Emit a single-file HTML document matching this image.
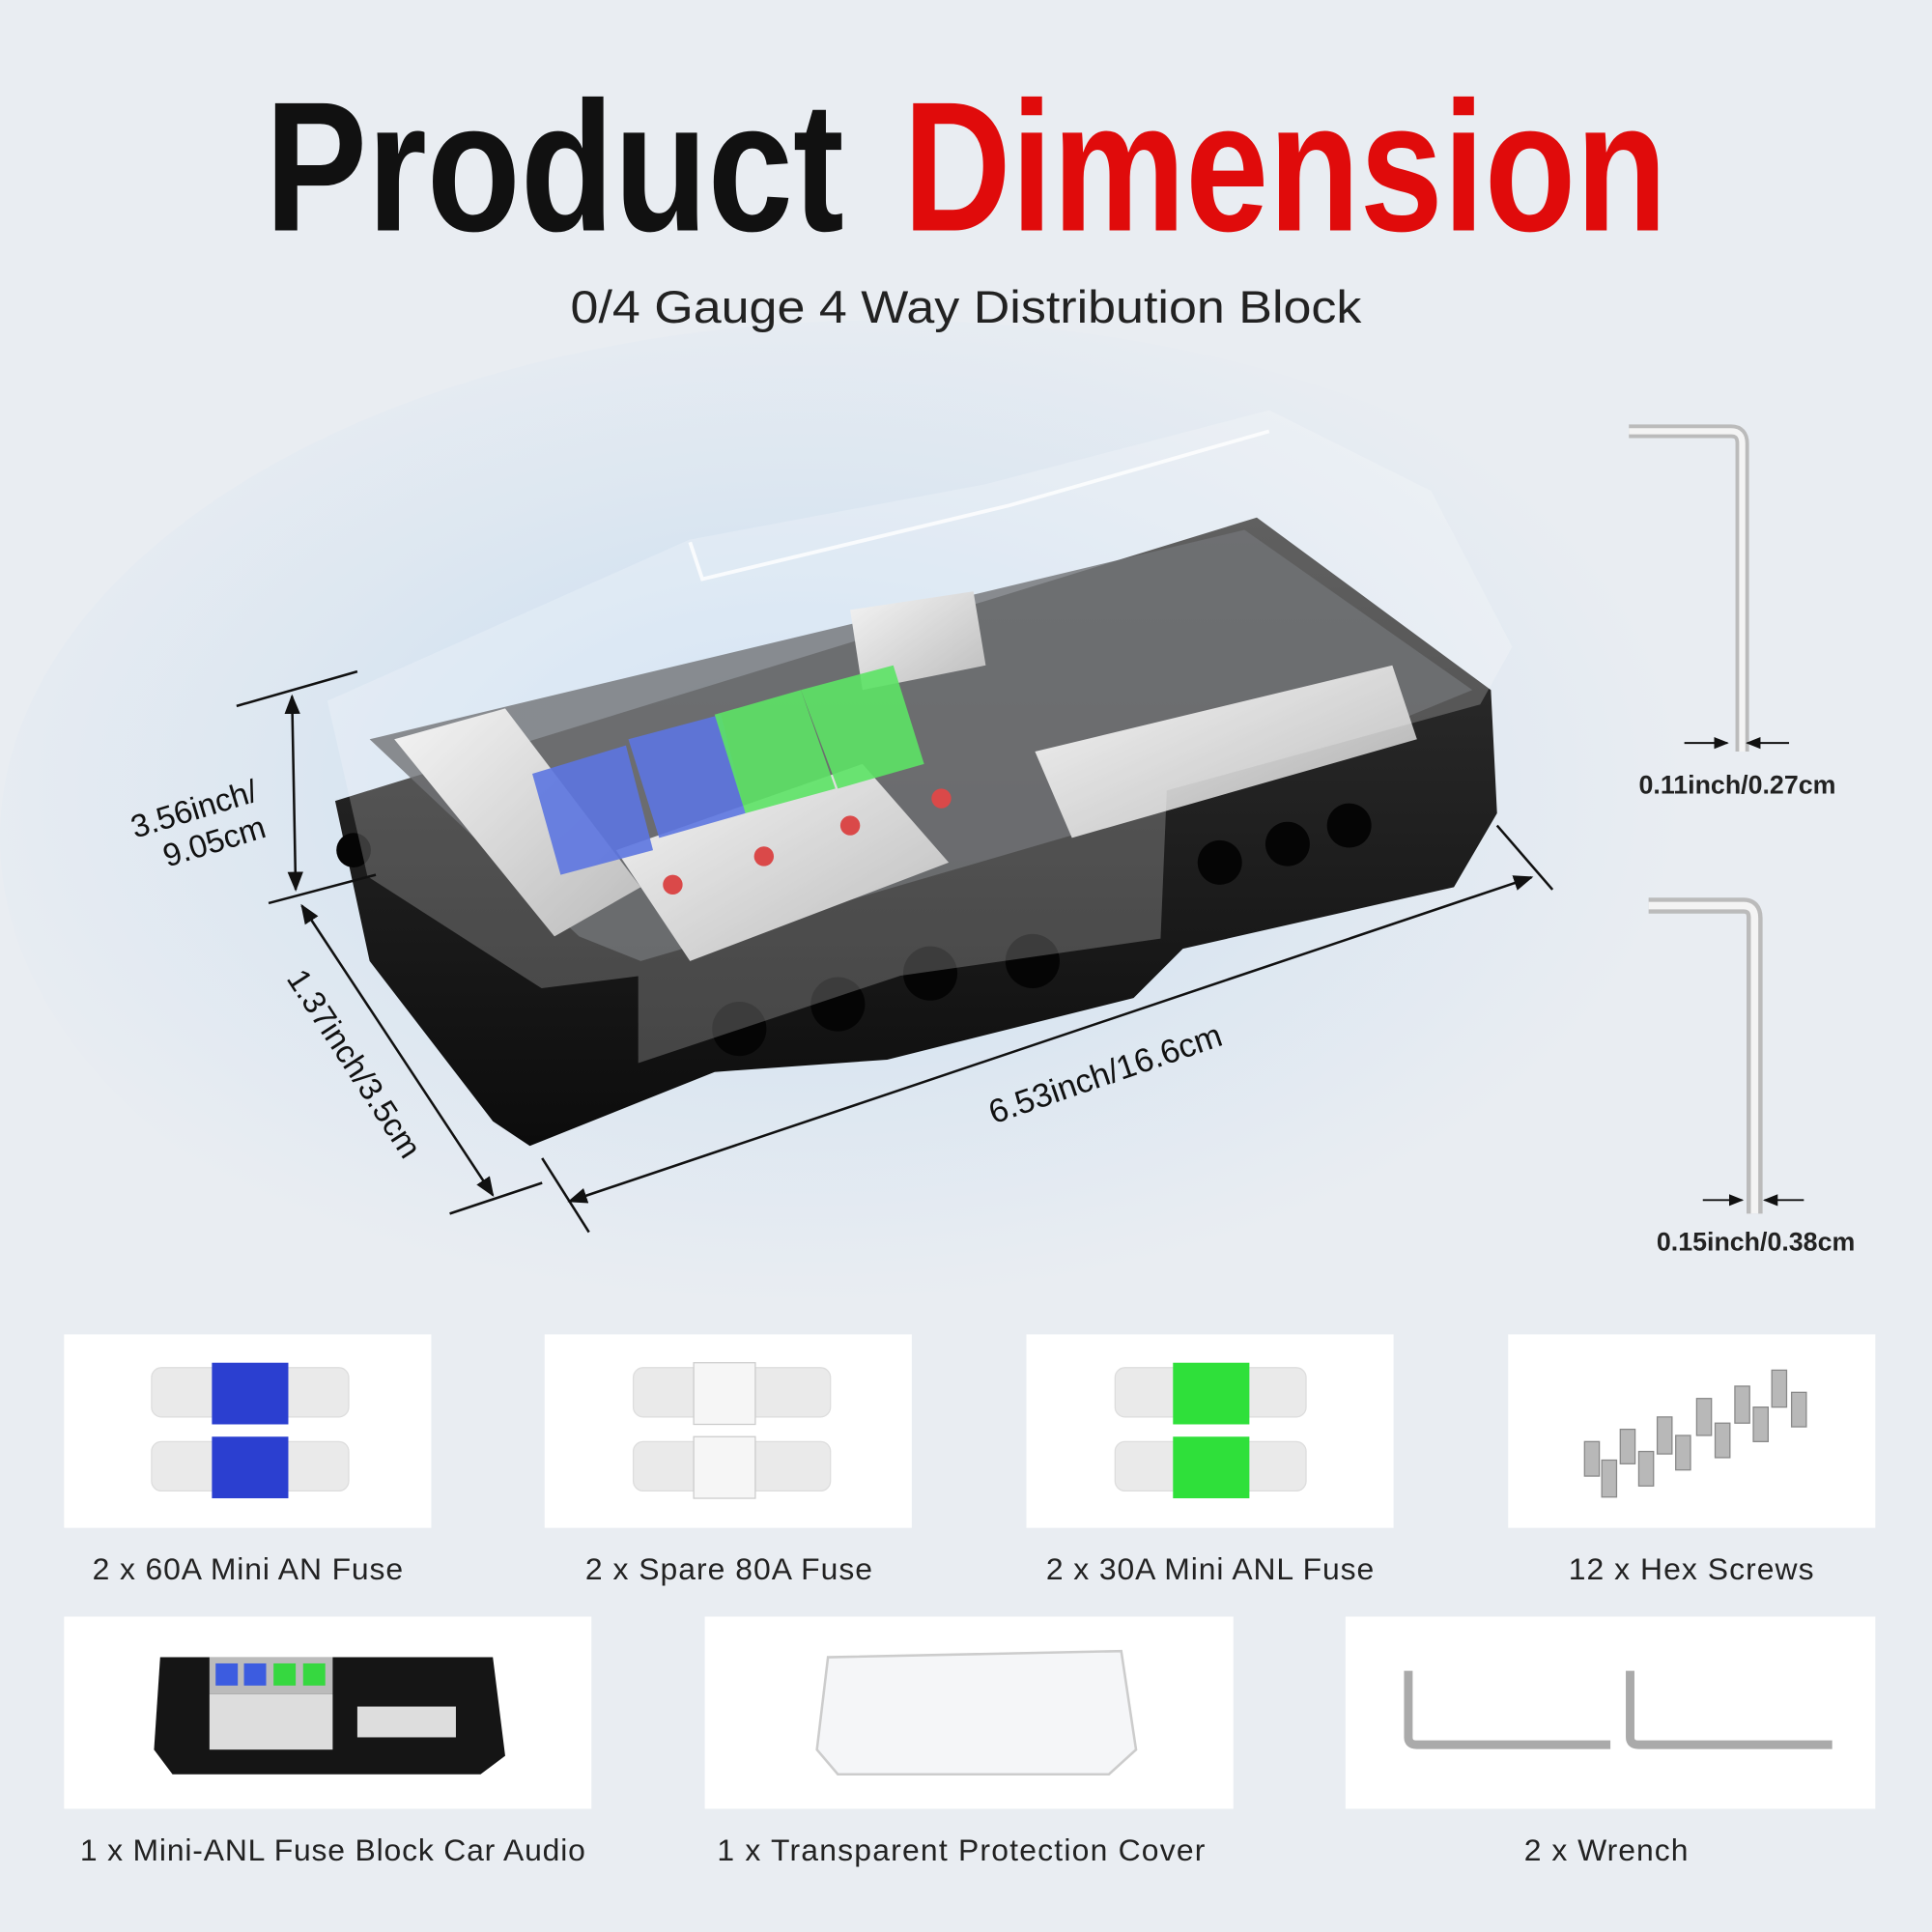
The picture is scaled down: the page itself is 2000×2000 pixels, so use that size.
<!DOCTYPE html>
<html><head><meta charset="utf-8"><style>
html,body{margin:0;padding:0;background:#e9edf2}
svg{display:block}
</style></head><body>
<svg width="2000" height="2000" viewBox="0 0 1568 1568" xmlns="http://www.w3.org/2000/svg" font-family="Liberation Sans, sans-serif">
<defs>
<radialGradient id="glow" cx="0.45" cy="0.45" r="0.5">
<stop offset="0" stop-color="#c6dcf2"/><stop offset="0.6" stop-color="#dde7f1"/><stop offset="1" stop-color="#e9edf2"/>
</radialGradient>
<linearGradient id="base" x1="0" y1="0" x2="0" y2="1"><stop offset="0" stop-color="#333"/><stop offset="1" stop-color="#0c0c0c"/></linearGradient>
<linearGradient id="metal" x1="0" y1="0" x2="1" y2="1"><stop offset="0" stop-color="#f2f2f2"/><stop offset="1" stop-color="#a9a9a9"/></linearGradient>
<marker id="ar" viewBox="0 0 10 10" refX="9" refY="5" markerWidth="8" markerHeight="8" orient="auto-start-reverse"><path d="M0,1 L10,5 L0,9 z" fill="#111"/></marker>
</defs>
<rect width="1568" height="1568" fill="#e9edf2"/>
<ellipse cx="720" cy="680" rx="720" ry="420" fill="url(#glow)"/>

<text x="215" y="187" font-size="150" font-weight="bold" textLength="470" lengthAdjust="spacingAndGlyphs" fill="#111">Product</text>
<text x="733" y="187" font-size="150" font-weight="bold" textLength="620" lengthAdjust="spacingAndGlyphs" fill="#e00b0b">Dimension</text>
<text x="463" y="262" font-size="37" textLength="642" lengthAdjust="spacingAndGlyphs" fill="#222">0/4 Gauge 4 Way Distribution Block</text>

<path d="M272,650 L1020,420 L1210,560 L1215,660 L1180,720 L960,770 L920,810 L720,860 L580,870 L430,930 L400,910 L300,780 Z" fill="url(#base)"/>
<path d="M300,600 L1010,430 L1195,560 L1000,640 L520,780 L470,760 Z" fill="#4a4c50" opacity="0.8"/>
<path d="M320,600 L410,575 L520,720 L450,760 Z" fill="url(#metal)"/>
<path d="M500,690 L700,620 L770,700 L560,780 Z" fill="url(#metal)"/>
<path d="M690,495 L790,480 L800,540 L700,560 Z" fill="url(#metal)"/>
<path d="M840,610 L1130,540 L1150,600 L870,680 Z" fill="url(#metal)"/>
<path d="M432,628 L508,605 L530,690 L455,710 Z" fill="#2f4fd8" opacity="0.9"/>
<path d="M510,600 L585,580 L605,660 L535,680 Z" fill="#2f4fd8" opacity="0.9"/>
<path d="M580,580 L650,560 L678,640 L605,660 Z" fill="#2fdc3a" opacity="0.9"/>
<path d="M650,560 L725,540 L750,620 L680,640 Z" fill="#2fdc3a" opacity="0.9"/>
<circle cx="546" cy="718" r="8" fill="#d01515"/><circle cx="620" cy="695" r="8" fill="#d01515"/><circle cx="690" cy="670" r="8" fill="#d01515"/><circle cx="764" cy="648" r="8" fill="#d01515"/>
<g fill="#050505"><circle cx="600" cy="835" r="22"/><circle cx="680" cy="815" r="22"/><circle cx="755" cy="790" r="22"/><circle cx="838" cy="780" r="22"/><circle cx="990" cy="700" r="18"/><circle cx="1045" cy="685" r="18"/><circle cx="1095" cy="670" r="18"/><circle cx="287" cy="690" r="14"/></g>
<path d="M268,570 L560,440 L800,395 L1030,335 L1160,400 L1225,525 L1200,570 L945,640 L940,760 L730,790 L520,860 L520,790 L440,800 L300,710 Z" fill="#ffffff" opacity="0.22" stroke="#ffffff" stroke-width="4"/>
<path d="M560,440 L570,470 L820,410 L1030,350" fill="none" stroke="#fff" stroke-width="3" opacity="0.8"/>

<g stroke="#111" stroke-width="2" fill="none">
<line x1="192" y1="573" x2="290" y2="545"/>
<line x1="218" y1="733" x2="305" y2="710"/>
<line x1="237" y1="565" x2="240" y2="722" marker-start="url(#ar)" marker-end="url(#ar)"/>
<line x1="245" y1="735" x2="400" y2="970" marker-start="url(#ar)" marker-end="url(#ar)"/>
<line x1="365" y1="985" x2="440" y2="960"/>
<line x1="440" y1="940" x2="478" y2="1000"/>
<line x1="1215" y1="670" x2="1260" y2="722"/>
<line x1="462" y1="975" x2="1243" y2="712" marker-start="url(#ar)" marker-end="url(#ar)"/>
</g>
<text transform="translate(160,665) rotate(-17)" font-size="26" text-anchor="middle" fill="#111"><tspan x="0" y="0">3.56inch/</tspan><tspan x="8" y="30">9.05cm</tspan></text>
<text transform="translate(280,868) rotate(57)" font-size="26" text-anchor="middle" fill="#111">1.37inch/3.5cm</text>
<text transform="translate(900,880) rotate(-19)" font-size="27" text-anchor="middle" fill="#111">6.53inch/16.6cm</text>

<path d="M1322,350 L1405,350 Q1414,350 1414,360 L1414,610" fill="none" stroke="#bbb" stroke-width="11"/>
<path d="M1322,350 L1405,350 Q1414,350 1414,360 L1414,610" fill="none" stroke="#f4f4f4" stroke-width="5"/>
<path d="M1338,735 L1415,735 Q1424,735 1424,745 L1424,985" fill="none" stroke="#bbb" stroke-width="13"/>
<path d="M1338,735 L1415,735 Q1424,735 1424,745 L1424,985" fill="none" stroke="#f4f4f4" stroke-width="6"/>
<g stroke="#111" stroke-width="1.5" fill="none">
<line x1="1367" y1="603" x2="1402" y2="603" marker-end="url(#ar)"/><line x1="1452" y1="603" x2="1418" y2="603" marker-end="url(#ar)"/>
<line x1="1382" y1="974" x2="1414" y2="974" marker-end="url(#ar)"/><line x1="1464" y1="974" x2="1432" y2="974" marker-end="url(#ar)"/>
</g>
<text x="1410" y="644" font-size="21" font-weight="bold" text-anchor="middle" fill="#222">0.11inch/0.27cm</text>
<text x="1425" y="1015" font-size="21" font-weight="bold" text-anchor="middle" fill="#222">0.15inch/0.38cm</text>

<g fill="#fff"><rect x="52" y="1083" width="298" height="157"/><rect x="442" y="1083" width="298" height="157"/><rect x="833" y="1083" width="298" height="157"/><rect x="1224" y="1083" width="298" height="157"/>
<rect x="52" y="1312" width="428" height="156"/><rect x="572" y="1312" width="429" height="156"/><rect x="1092" y="1312" width="430" height="156"/></g>
<g>
<g fill="#eaeaea" stroke="#ddd"><rect x="123" y="1110" width="160" height="40" rx="8"/><rect x="123" y="1170" width="160" height="40" rx="8"/>
<rect x="514" y="1110" width="160" height="40" rx="8"/><rect x="514" y="1170" width="160" height="40" rx="8"/>
<rect x="905" y="1110" width="155" height="40" rx="8"/><rect x="905" y="1170" width="155" height="40" rx="8"/></g>
<rect x="172" y="1106" width="62" height="50" fill="#2b3fd0"/><rect x="172" y="1166" width="62" height="50" fill="#2b3fd0"/>
<rect x="563" y="1106" width="50" height="50" fill="#f6f6f6" stroke="#ccc"/><rect x="563" y="1166" width="50" height="50" fill="#f6f6f6" stroke="#ccc"/>
<rect x="952" y="1106" width="62" height="50" fill="#2fe03a"/><rect x="952" y="1166" width="62" height="50" fill="#2fe03a"/>
</g>
<g fill="#b8b8b8" stroke="#888">
<rect x="1286" y="1170" width="12" height="28"/><rect x="1300" y="1185" width="12" height="30"/><rect x="1315" y="1160" width="12" height="28"/><rect x="1330" y="1178" width="12" height="28"/><rect x="1345" y="1150" width="12" height="30"/><rect x="1360" y="1165" width="12" height="28"/><rect x="1377" y="1135" width="12" height="30"/><rect x="1392" y="1155" width="12" height="28"/><rect x="1408" y="1125" width="12" height="30"/><rect x="1423" y="1142" width="12" height="28"/><rect x="1438" y="1112" width="12" height="30"/><rect x="1454" y="1130" width="12" height="28"/>
</g>
<path d="M130,1345 L400,1345 L410,1425 L390,1440 L140,1440 L125,1420 Z" fill="#151515"/>
<rect x="170" y="1345" width="100" height="30" fill="#bbb"/>
<rect x="175" y="1350" width="18" height="18" fill="#3c5ce0"/><rect x="198" y="1350" width="18" height="18" fill="#3c5ce0"/><rect x="222" y="1350" width="18" height="18" fill="#36d840"/><rect x="246" y="1350" width="18" height="18" fill="#36d840"/>
<rect x="170" y="1375" width="100" height="45" fill="#ddd"/><rect x="290" y="1385" width="80" height="25" fill="#ddd"/>
<path d="M672,1345 L910,1340 L922,1420 L900,1440 L680,1440 L663,1420 Z" fill="#f5f6f8" stroke="#ccc" stroke-width="2"/>
<path d="M1143,1356 L1143,1410 Q1143,1416 1150,1416 L1307,1416" fill="none" stroke="#aaa" stroke-width="7"/>
<path d="M1323,1356 L1323,1410 Q1323,1416 1330,1416 L1487,1416" fill="none" stroke="#aaa" stroke-width="7"/>

<g font-size="25" fill="#222" lengthAdjust="spacingAndGlyphs">
<text x="75" y="1282" textLength="252">2 x 60A Mini AN Fuse</text>
<text x="475" y="1282" textLength="233">2 x Spare 80A Fuse</text>
<text x="849" y="1282" textLength="266">2 x 30A Mini ANL Fuse</text>
<text x="1273" y="1282" textLength="199">12 x Hex Screws</text>
<text x="65" y="1510" textLength="410">1 x Mini-ANL Fuse Block Car Audio</text>
<text x="582" y="1510" textLength="396">1 x Transparent Protection Cover</text>
<text x="1237" y="1510" textLength="133">2 x Wrench</text>
</g>
</svg>
</body></html>
